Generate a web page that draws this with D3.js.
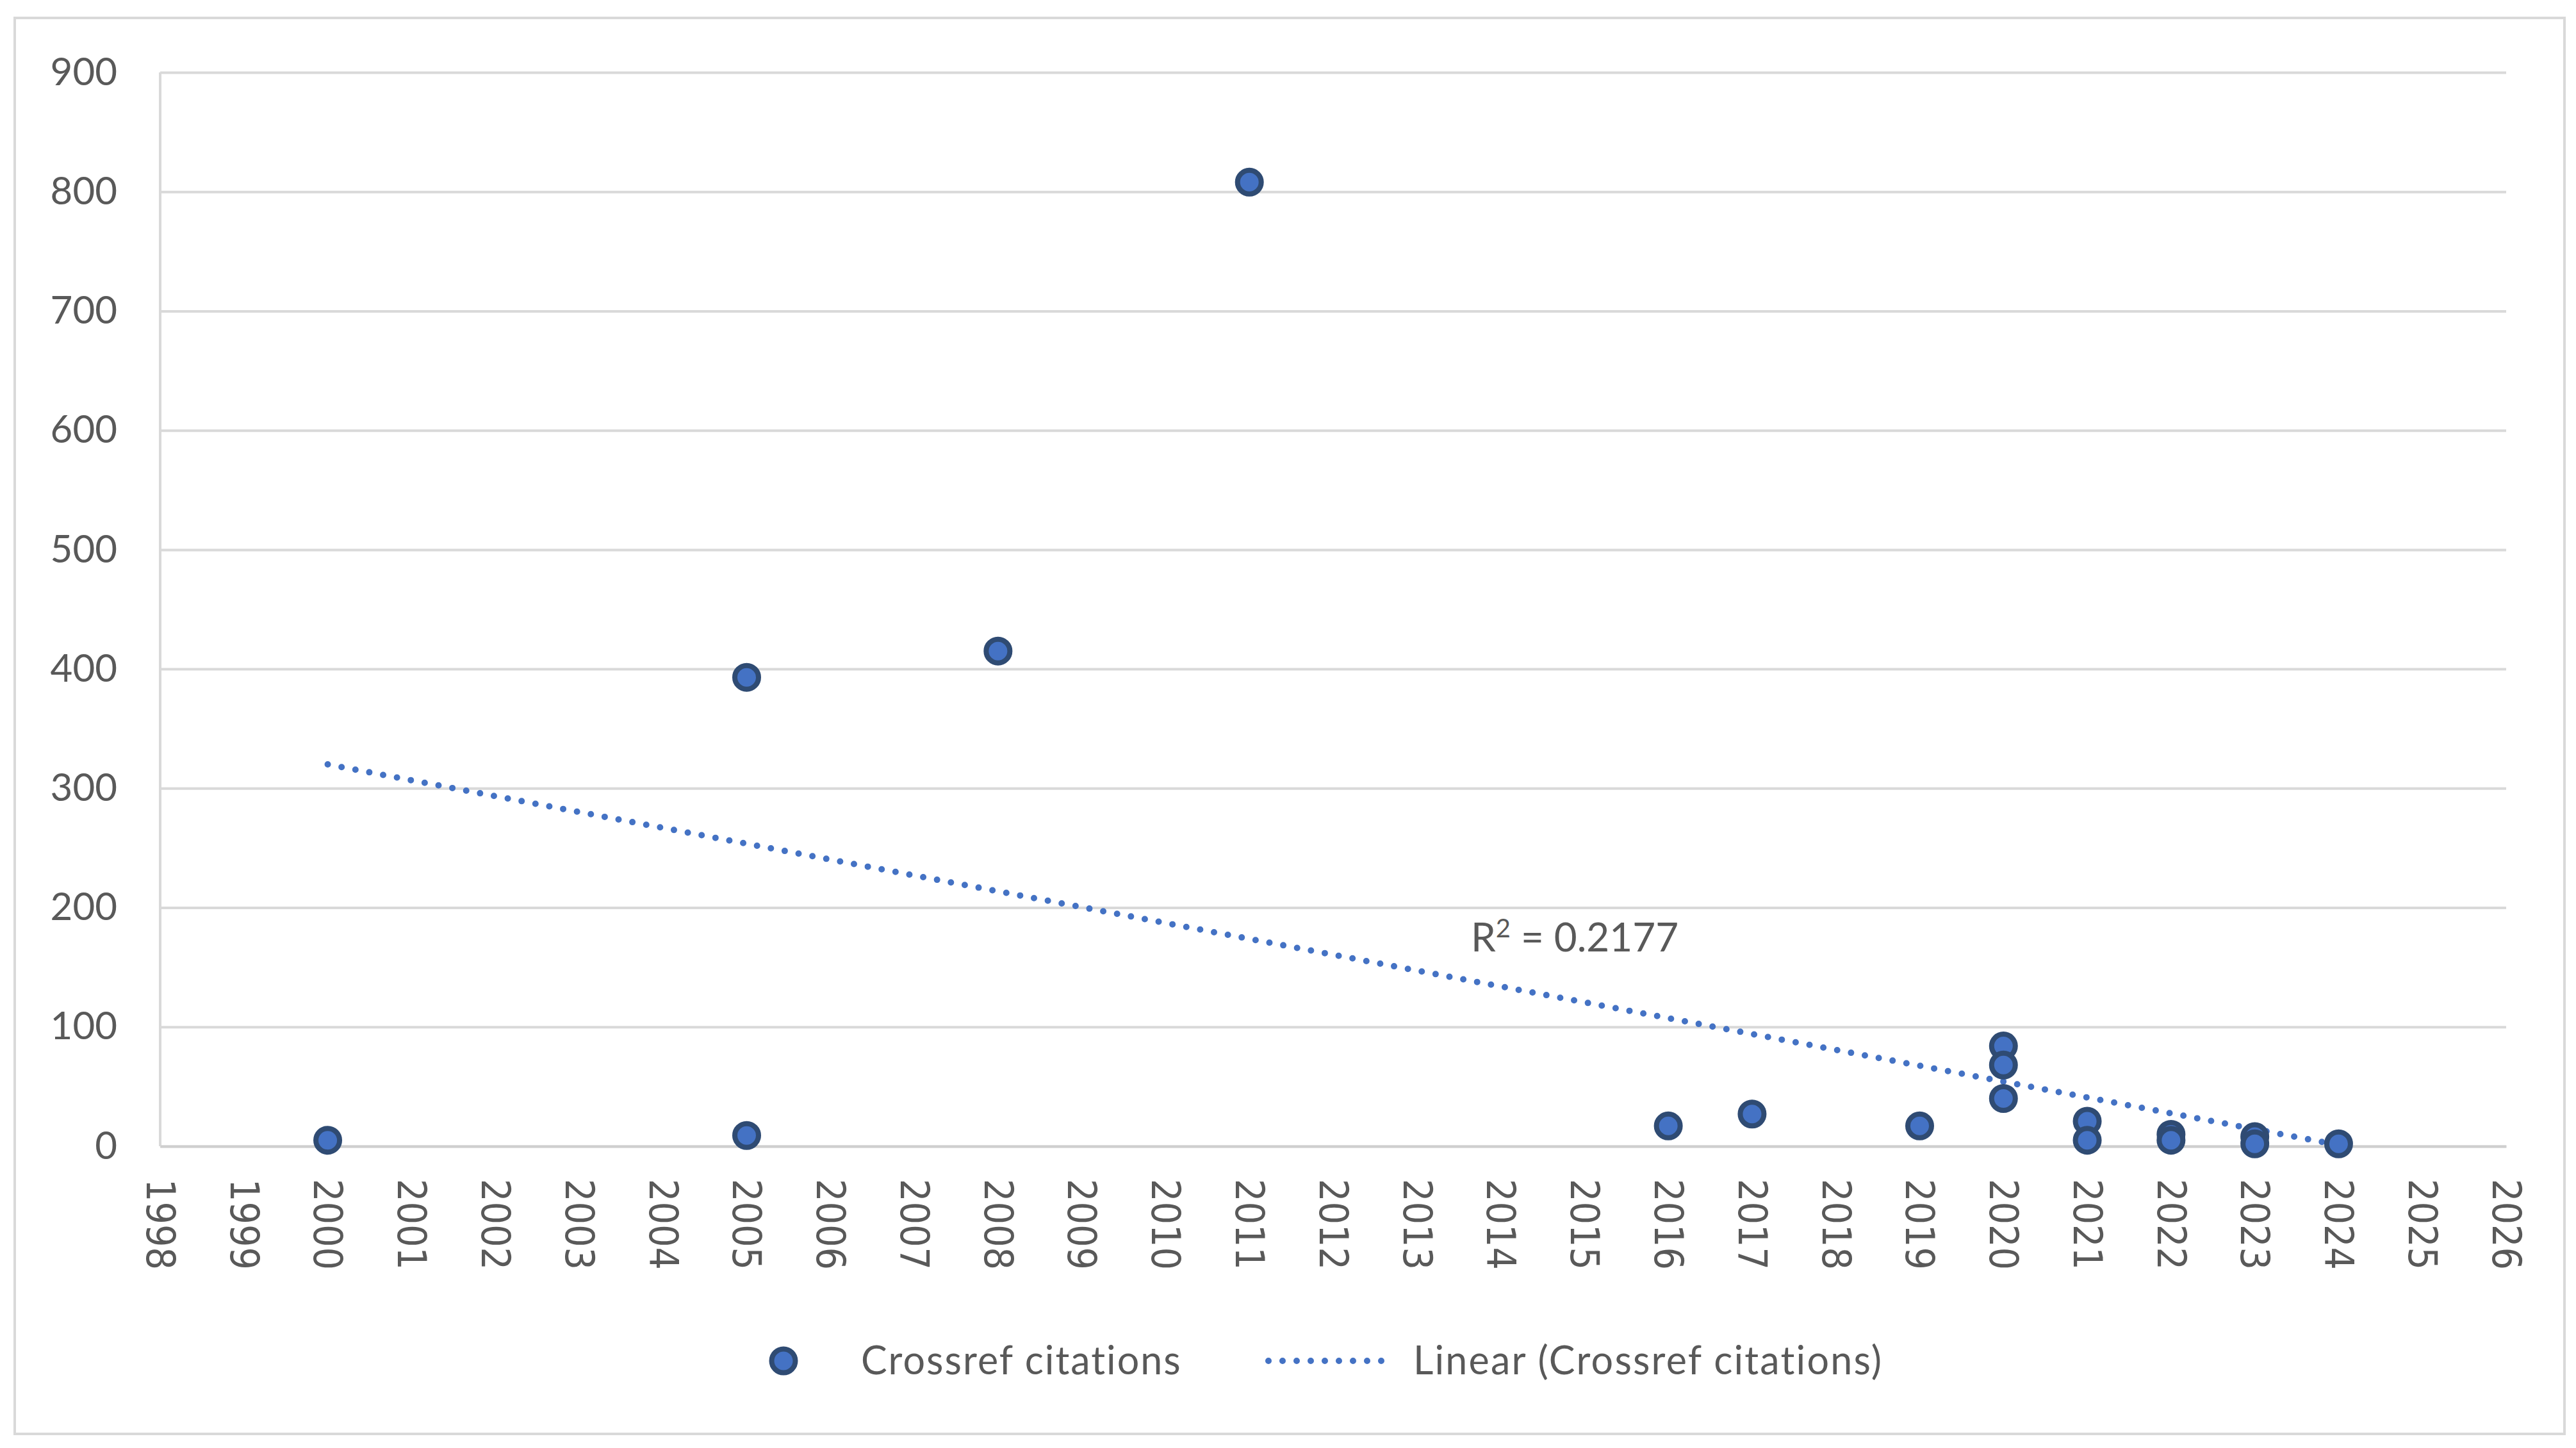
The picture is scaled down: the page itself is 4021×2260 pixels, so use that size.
<!DOCTYPE html>
<html>
	<head>
		<meta charset="utf-8">
		<title>Crossref citations</title>
		<style>
			body { margin: 0; background: #fff; }
			.grid line { stroke: #d9d9d9; stroke-width: 4px; }
			.tick text { fill: #595959; font-family: Lato, sans-serif; }
			.xaxis .tick text { font-family: "DejaVu Sans Condensed", "DejaVu Sans", sans-serif; }
			.dot { fill: #4472c4; stroke: #2f4b73; stroke-width: 8px; }
			.trend { fill: none; stroke: #4472c4; stroke-width: 10px; stroke-linecap: round; stroke-dasharray: 0 22; }
			.label { fill: #595959; font-family: Lato, sans-serif; }
		</style>
	</head>
	<body>
		<svg class="chart"></svg>
		<script src="https://d3js.org/d3.v7.min.js"></script>
		<script>
			// citation counts per publication year
			var years  = [2000, 2005, 2005, 2008, 2011, 2016, 2017, 2019, 2020, 2020, 2020, 2021, 2021, 2022, 2022, 2023, 2023, 2024];
			var counts = [5, 393, 9, 415, 808, 17, 27, 17, 84, 68, 40, 21, 5, 10, 5, 8, 2, 2];

			// linear trendline as drawn (end points)
			var trendYears  = [2000, 2024];
			var trendValues = [320, 1];
			var rSquared = "0.2177";

			var yTicks = [0, 100, 200, 300, 400, 500, 600, 700, 800, 900];
			var xTicks = d3.range(1998, 2027);

			var seriesName = "Crossref citations";
			var trendName = "Linear (Crossref citations)";

			var W = 4021, H = 2260;
			var svg = d3.select(".chart").attr("width", W).attr("height", H);

			// outer chart border
			svg.append("rect")
				.attr("x", 23).attr("y", 28)
				.attr("width", 3980).attr("height", 2210)
				.attr("fill", "#fff")
				.attr("stroke", "#d9d9d9")
				.attr("stroke-width", 4);

			var x = d3.scaleLinear().domain([1998, 2026]).range([250, 3912]);
			var y = d3.scaleLinear().domain([0, 900]).range([1789, 113]);

			// y axis + gridlines
			var yAxis = svg.append("g")
				.attr("class", "grid")
				.attr("transform", "translate(250,0)")
				.call(d3.axisLeft(y)
					.tickValues(yTicks)
					.tickSize(-(3912 - 250))
					.tickPadding(67));
			yAxis.select(".domain").remove();
			yAxis.selectAll(".tick text").style("font-size", "60px");

			// left axis line
			svg.append("line")
				.attr("x1", 250).attr("x2", 250)
				.attr("y1", y(900)).attr("y2", y(0))
				.attr("stroke", "#d9d9d9").attr("stroke-width", 4);

			// x axis
			var xAxis = svg.append("g")
				.attr("class", "xaxis")
				.attr("transform", "translate(0," + y(0) + ")")
				.call(d3.axisBottom(x)
					.tickValues(xTicks)
					.tickFormat(d3.format("d"))
					.tickSize(0));
			xAxis.select(".domain")
				.attr("stroke", "#cfcfcf")
				.attr("stroke-width", 4);
			xAxis.selectAll(".tick text")
				.style("font-size", "62px")
				.attr("transform", "rotate(90)")
				.attr("text-anchor", "start")
				.attr("x", 51)
				.attr("y", 0)
				.attr("dy", "0.35em");

			// trendline
			var line = d3.line()
				.x(function(d, i) { return x(trendYears[i]); })
				.y(function(d) { return y(d); });
			svg.append("path")
				.attr("class", "trend")
				.attr("d", line(trendValues));

			// points
			svg.append("g")
				.selectAll("circle")
				.data(counts)
				.enter()
				.append("circle")
					.attr("class", "dot")
					.attr("cx", function(d, i) { return x(years[i]); })
					.attr("cy", function(d) { return y(d); })
					.attr("r", 18.5);

			// R² label
			svg.append("text")
				.attr("class", "label")
				.attr("x", 2296).attr("y", 1485)
				.style("font-size", "62px")
				.html("R<tspan dy='-22' style='font-size:40px'>2</tspan><tspan dy='22'> = " + rSquared + "</tspan>");

			// legend
			var legend = svg.append("g");
			legend.append("circle")
				.attr("class", "dot")
				.attr("cx", 1223).attr("cy", 2124).attr("r", 18.5);
			legend.append("text")
				.attr("class", "label")
				.attr("x", 1344).attr("y", 2145)
				.style("font-size", "61px")
				.style("letter-spacing", "2px")
				.text(seriesName);
			legend.append("line")
				.attr("class", "trend")
				.attr("x1", 1980).attr("x2", 2170)
				.attr("y1", 2124).attr("y2", 2124);
			legend.append("text")
				.attr("class", "label")
				.attr("x", 2206).attr("y", 2145)
				.style("font-size", "61px")
				.style("letter-spacing", "2.2px")
				.text(trendName);
		</script>
	</body>
</html>
